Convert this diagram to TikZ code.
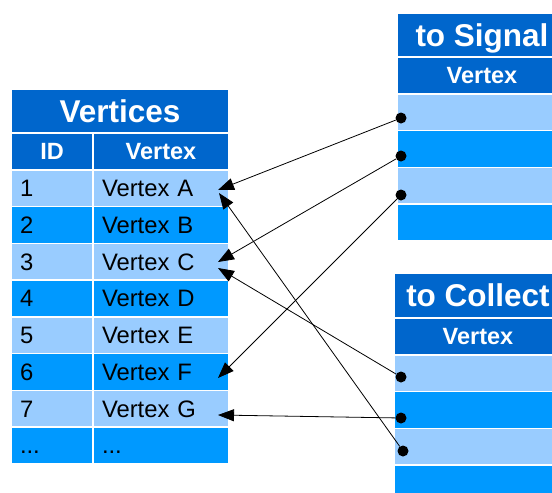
\documentclass[tikz,border=0pt]{standalone}
\usepackage{fontspec}
\setmainfont{Liberation Sans}
\usepackage[HTML]{xcolor}
\usepackage{tikz}
\usetikzlibrary{arrows.meta}

\definecolor{headblue}{HTML}{0066CC}
\definecolor{rowlight}{HTML}{99CCFF}
\definecolor{rowdark}{HTML}{0099FF}

\tikzset{
  cell/.style={draw=white, line width=1.5pt, inner ysep=0pt, inner xsep=9pt,
    minimum height=36.75pt, text height=16.5pt, text depth=0pt, align=left,
    font=\fontsize{23.8}{26}\selectfont},
  light/.style={cell, fill=rowlight},
  dark/.style={cell, fill=rowdark},
  idcol/.style={text width=64pt},
  vxcol/.style={text width=118pt},
  tabtitle/.style={draw=white, line width=1.5pt, fill=headblue, text=white,
    inner sep=0pt, minimum height=44pt, text height=22.5pt, text depth=0pt,
    font=\fontsize{31.5}{34}\selectfont\bfseries},
  tabhead/.style={draw=white, line width=1.5pt, fill=headblue, text=white,
    inner sep=0pt, minimum height=37pt, text height=16.5pt, text depth=0pt,
    font=\fontsize{23.5}{26}\selectfont\bfseries},
  pin/.style={circle, fill=black, inner sep=0pt, minimum size=11pt},
  link/.style={-{Triangle[length=16pt,width=12pt]}, line width=0.8pt}
}

\begin{document}
\begin{tikzpicture}[x=1pt, y=-1pt]
\useasboundingbox (0,0) rectangle (552,493);
\clip (0,0) rectangle (552,493);

% table of vertices
\node[tabtitle, minimum width=218pt] (vtitle) at (120,111) {Vertices};
\node[tabhead, minimum width=82pt] (vid) at (52,151.5) {ID};
\node[tabhead, minimum width=136pt] (vvx) at (161,151.5) {Vertex};

\node[light, idcol] (id1) at (52,188.4) {1};
\node[light, vxcol] (vx1) at (161,188.4) {Vertex A};
\node[dark, idcol] (id2) at (52,225.1) {2};
\node[dark, vxcol] (vx2) at (161,225.1) {Vertex B};
\node[light, idcol] (id3) at (52,261.9) {3};
\node[light, vxcol] (vx3) at (161,261.9) {Vertex C};
\node[dark, idcol] (id4) at (52,298.6) {4};
\node[dark, vxcol] (vx4) at (161,298.6) {Vertex D};
\node[light, idcol] (id5) at (52,335.4) {5};
\node[light, vxcol] (vx5) at (161,335.4) {Vertex E};
\node[dark, idcol] (id6) at (52,372.1) {6};
\node[dark, vxcol] (vx6) at (161,372.1) {Vertex F};
\node[light, idcol] (id7) at (52,408.9) {7};
\node[light, vxcol] (vx7) at (161,408.9) {Vertex G};
\node[dark, idcol] (id8) at (52,445.6) {...};
\node[dark, vxcol] (vx8) at (161,445.6) {...};

% to Signal
\node[tabtitle, minimum width=170pt] (stitle) at (482,35) {to Signal};
\node[tabhead, minimum width=170pt] (shead) at (482,75.5) {Vertex};
\node[light, minimum width=170pt] (s1) at (482,112.4) {};
\node[dark, minimum width=170pt] (s2) at (482,149.1) {};
\node[light, minimum width=170pt] (s3) at (482,185.9) {};
\node[dark, minimum width=170pt] (s4) at (482,222.6) {};

% to Collect
\node[tabtitle, minimum width=168pt, minimum height=45pt] (ctitle) at (478,295.5) {to Collect};
\node[tabhead, minimum width=168pt] (chead) at (478,336.5) {Vertex};
\node[light, minimum width=168pt] (c1) at (478,373.4) {};
\node[dark, minimum width=168pt] (c2) at (478,410.1) {};
\node[light, minimum width=168pt] (c3) at (478,446.9) {};
\node[dark, minimum width=168pt] (c4) at (478,483.6) {};

% pointers
\node[pin] (sp1) at (401,118) {};
\node[pin] (sp2) at (401,156) {};
\node[pin] (sp3) at (401,195) {};
\node[pin] (cp1) at (401,377) {};
\node[pin] (cp2) at (401,418) {};
\node[pin] (cp3) at (403,451) {};

\coordinate (tA1) at (218,190);
\coordinate (tA2) at (219,193);
\coordinate (tC1) at (218,262);
\coordinate (tC2) at (218,268);
\coordinate (tF) at (218,378);
\coordinate (tG) at (218,415);

\draw[link] (sp1)--(tA1);
\draw[link] (sp2)--(tC1);
\draw[link] (sp3)--(tF);
\draw[link] (cp1)--(tC2);
\draw[link] (cp2)--(tG);
\draw[link] (cp3)--(tA2);
\end{tikzpicture}
\end{document}
